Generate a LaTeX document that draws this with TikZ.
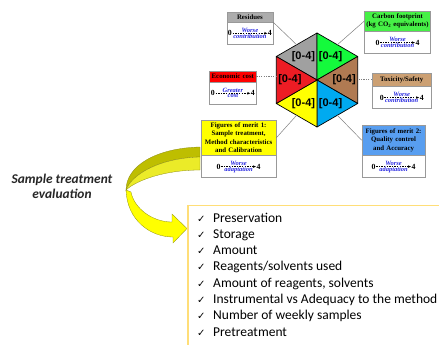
\documentclass[tikz,border=0pt]{standalone}
\usepackage{fontspec}
\setmainfont{Liberation Serif}
\newfontfamily\calfont{Carlito}
\newfontfamily\labfont{Liberation Sans}
\newfontfamily\tickfont{DejaVu Sans}
\usetikzlibrary{positioning,arrows.meta,calc}

\definecolor{hexgrey}{RGB}{160,160,160}
\definecolor{hexgreen}{RGB}{20,250,60}
\definecolor{hexbrown}{RGB}{176,122,82}
\definecolor{hexblue}{RGB}{0,170,240}
\definecolor{hexyellow}{RGB}{255,255,0}
\definecolor{hexred}{RGB}{237,28,36}
\definecolor{hdrgrey}{RGB}{172,172,172}
\definecolor{hdrgreen}{RGB}{70,240,70}
\definecolor{hdrred}{RGB}{255,0,0}
\definecolor{hdrtan}{RGB}{204,160,115}
\definecolor{hdryellow}{RGB}{255,255,0}
\definecolor{hdrblue}{RGB}{88,158,240}
\definecolor{wordblue}{RGB}{40,40,225}
\definecolor{arrowolive}{RGB}{190,190,0}
\definecolor{arrowface}{RGB}{235,235,40}
\definecolor{arrowedge}{RGB}{140,140,20}
\definecolor{frameorange}{RGB}{255,222,120}
\definecolor{evaltext}{RGB}{38,38,38}

\tikzset{
  hdrbox/.style={draw=gray!80, inner xsep=0.5pt, inner ysep=1pt, align=center,
    font=\fontsize{6.8}{8.3}\selectfont\bfseries},
  bodybox/.style={draw=gray!80, fill=white, minimum height=22pt, inner sep=0pt},
  scalenum/.style={inner sep=0.5pt, font=\fontsize{7.8}{8}\selectfont\bfseries},
  scaleword/.style={inner sep=0.2pt, text=wordblue, font=\fontsize{6.5}{6.5}\selectfont\bfseries\itshape},
  scalearrow/.style={dash pattern=on 1.4pt off 1.2pt, line width=0.5pt,
    -{Stealth[length=3pt,width=2.6pt]}},
  hexpiece/.style={draw=black, line width=0.7pt, line join=round},
  hexlab/.style={font=\labfont\bfseries\fontsize{11}{12}\selectfont},
  linkline/.style={draw=gray, line width=0.5pt},
  linkdash/.style={draw=gray, line width=0.6pt, dash pattern=on 1.2pt off 1.2pt},
  listframe/.style={draw=frameorange, line width=1.3pt, inner sep=0pt},
  listitem/.style={anchor=base west, inner sep=0pt, font=\calfont\fontsize{13.5}{14}\selectfont}
}

% one criterion box: name, x, y, width, header height, colour, header, upper word, lower word
\newcommand{\critbox}[9]{%
  \pgfmathsetmacro{\hdrtw}{#4-1}%
  \node[hdrbox, fill=#6, anchor=north west, minimum width=#4pt, text width=\hdrtw pt,
    minimum height=#5pt] (#1) at (#2,#3) {#7};
  \node[bodybox, anchor=north west, minimum width=#4pt] (#1 body) at (#1.south west) {};
  \node[scalenum] (#1 zero) at ([xshift=-20pt]#1 body.center) {0};
  \node[scalenum] (#1 four) at ([xshift=20pt]#1 body.center) {4};
  \draw[scalearrow] (#1 zero) -- (#1 four)
    node[midway, above=0.3pt, scaleword] {#8}
    node[midway, below=0.3pt, scaleword] {#9};
}

\begin{document}
\begin{tikzpicture}[x=1pt,y=-1pt]     % hexagon of criteria and the evaluation list
\useasboundingbox (0,0) rectangle (439,345);
\clip (0,0) rectangle (439,345);

% hexagon
\coordinate (hc) at (317,80);
\coordinate (vt) at (317,33);
\coordinate (vur) at (357.7,56.5);
\coordinate (vlr) at (357.7,103.5);
\coordinate (vb) at (317,127);
\coordinate (vll) at (276.3,103.5);
\coordinate (vul) at (276.3,56.5);
\filldraw[hexpiece, fill=hexgrey] (hc) -- (vul) -- (vt) -- cycle;
\filldraw[hexpiece, fill=hexgreen] (hc) -- (vt) -- (vur) -- cycle;
\filldraw[hexpiece, fill=hexbrown] (hc) -- (vur) -- (vlr) -- cycle;
\filldraw[hexpiece, fill=hexblue] (hc) -- (vlr) -- (vb) -- cycle;
\filldraw[hexpiece, fill=hexyellow] (hc) -- (vb) -- (vll) -- cycle;
\filldraw[hexpiece, fill=hexred] (hc) -- (vll) -- (vul) -- cycle;
\node[hexlab] (lab grey) at (barycentric cs:hc=1,vul=1,vt=1) {[0-4]};
\node[hexlab] (lab green) at (barycentric cs:hc=1,vt=1,vur=1) {[0-4]};
\node[hexlab] (lab brown) at (barycentric cs:hc=1,vur=1,vlr=1) {[0-4]};
\node[hexlab] (lab blue) at (barycentric cs:hc=1,vlr=1,vb=1) {[0-4]};
\node[hexlab] (lab yellow) at (barycentric cs:hc=1,vb=1,vll=1) {[0-4]};
\node[hexlab] (lab red) at (barycentric cs:hc=1,vll=1,vul=1) {[0-4]};
\coordinate (mul) at ($(vul)!0.5!(vt)$);
\coordinate (mur) at ($(vt)!0.5!(vur)$);
\coordinate (mlr) at ($(vlr)!0.5!(vb)$);
\coordinate (mll) at ($(vb)!0.5!(vll)$);

% curved arrow
\path[fill=arrowolive, draw=arrowedge, line width=0.3pt] (200,147) .. controls (156,148) and (126,166) .. (126,190)
  .. controls (132,174) and (160,158) .. (200,157) -- cycle;
\path[fill=arrowface, draw=arrowedge, line width=0.3pt] (200,157) .. controls (160,158) and (132,174) .. (126,190)
  .. controls (137,180) and (165,170) .. (200,170) -- cycle;
\path[fill=hexyellow, draw=arrowedge, line width=0.3pt] (126,190) .. controls (127,220) and (150,237) .. (173,237)
  -- (173,243) -- (187,228.5) -- (172,214) -- (172,222)
  .. controls (152,222) and (134,208) .. (131,192) -- cycle;

% criteria
\critbox{res}{226.7}{12.3}{46}{9.4}{hdrgrey}{Residues}{Worse}{contribution}
\critbox{carb}{364.3}{10.7}{66}{20.3}{hdrgreen}{Carbon footprint\\(kg CO\textsubscript{2} equivalents)}{Worse}{contribution}
\critbox{econ}{209.3}{70.7}{46.7}{11}{hdrred}{Economic cost}{Greater}{cost}
\critbox{tox}{371.7}{72.7}{59.6}{13.3}{hdrtan}{Toxicity/Safety}{Worse}{contribution}
\critbox{fom1}{200.7}{120}{75.3}{35}{hdryellow}{Figures of merit 1:\\Sample treatment,\\Method characteristics\\and Calibration}{Worse}{adaptation}
\critbox{fom2}{361.7}{125}{63.3}{30}{hdrblue}{Figures of merit 2:\\Quality control\\and Accuracy}{Worse}{adaptation}

\draw[linkline] (res.south east) -- (mul);
\draw[linkline] (carb.west) -- (mur);
\draw[linkdash] (econ.east) -- (econ.east -| vul);
\draw[linkdash] (tox.west) -- (tox.west -| vur);
\draw[linkline] (fom1.east) -- (mll);
\draw[linkline] (fom2.west) -- (mlr);

% evaluation list
\node[font=\calfont\bfseries\itshape\fontsize{13.4}{15}\selectfont, text=evaltext, align=center]
  (evaltxt) at (62,186) {Sample treatment\\evaluation};
\node[listframe, anchor=north west, minimum width=270pt, minimum height=160pt] (listbox) at (187.3,205) {};
\foreach \txt [count=\i from 0] in {Preservation, Storage, Amount, Reagents/solvents used,
    {Amount of reagents, solvents}, Instrumental vs Adequacy to the method,
    Number of weekly samples, Pretreatment}
  \node[listitem] (item\i) at (197, 222+16.3*\i) {\makebox[16pt][l]{\tickfont\fontsize{10}{10}\selectfont ✓}\txt};
\end{tikzpicture}
\end{document}
